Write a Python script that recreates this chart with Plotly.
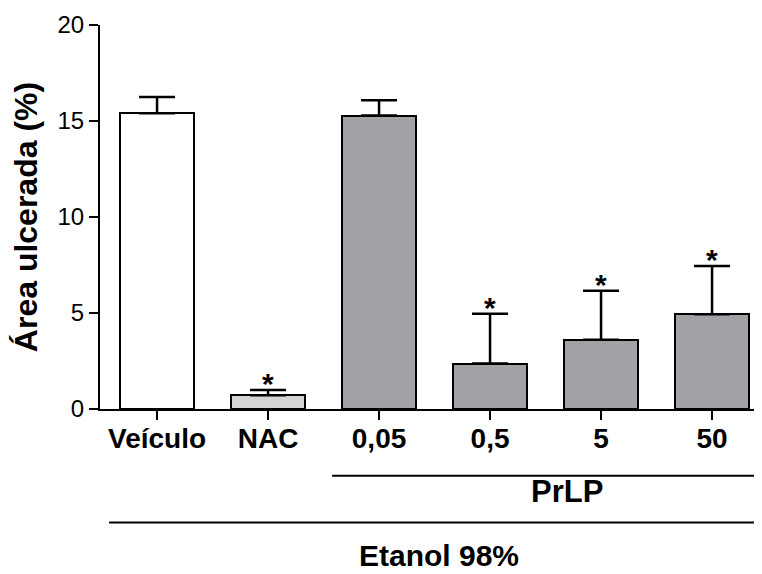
import plotly.graph_objects as go

categories = ["Veículo", "NAC", "0,05", "0,5", "5", "50"]
means = [15.40, 0.71, 15.28, 2.37, 3.61, 4.93]
errors = [0.85, 0.28, 0.80, 2.59, 2.55, 2.52]
significant = [False, True, False, True, True, True]
bar_colors = ["#ffffff", "#d4d4d4", "#a2a1a6", "#a2a1a6", "#a2a1a6", "#a2a1a6"]
y_ticks = [0, 5, 10, 15, 20]

xpos = list(range(len(categories)))

fig = go.Figure()
fig.add_trace(go.Bar(
    x=xpos, y=means, width=0.66,
    marker=dict(color=bar_colors, line=dict(color="black", width=2)),
    error_y=dict(type="data", array=errors, arrayminus=[0] * len(errors),
                 symmetric=False, color="black", thickness=2.5, width=18),
    showlegend=False, hoverinfo="skip",
))

annotations = []
for i, (m, e, s) in enumerate(zip(means, errors, significant)):
    if s:
        annotations.append(dict(x=i, y=m + e, text="<b>*</b>", showarrow=False,
                                xref="x", yref="y", yanchor="bottom", yshift=-12,
                                font=dict(family="Liberation Sans, Arial", size=30, color="black")))

annotations.append(dict(x=3.69, y=-0.2144, xref="x", yref="paper", text="<b>PrLP</b>",
                        showarrow=False, yanchor="middle",
                        font=dict(family="Liberation Sans, Arial", size=31, color="black")))
annotations.append(dict(x=2.54, y=-0.381, xref="x", yref="paper", text="<b>Etanol 98%</b>",
                        showarrow=False, yanchor="middle",
                        font=dict(family="Liberation Sans, Arial", size=30, color="black")))

shapes = [
    dict(type="line", xref="x", yref="paper", x0=1.577, x1=5.5, y0=-0.1736, y1=-0.1736,
         line=dict(color="black", width=2)),
    dict(type="line", xref="x", yref="paper", x0=-0.432, x1=5.5, y0=-0.2958, y1=-0.2958,
         line=dict(color="black", width=2)),
]

fig.update_layout(
    width=754, height=566,
    margin=dict(l=92, r=0, t=17, b=165, autoexpand=False),
    plot_bgcolor="white", paper_bgcolor="white",
    annotations=annotations, shapes=shapes,
    bargap=0,
    xaxis=dict(
        range=[-0.514, 5.45], tickmode="array", tickvals=xpos,
        ticktext=["<b>%s</b>" % c for c in categories],
        showline=True, linecolor="black", linewidth=2,
        ticks="outside", ticklen=9, tickwidth=2, tickcolor="black",
        ticklabelstandoff=-6,
        showgrid=False, zeroline=False,
        tickfont=dict(family="Liberation Sans Narrow, Arial Narrow, Liberation Sans, Arial", size=28, color="black"),
    ),
    yaxis=dict(
        range=[0, 20], tickmode="array", tickvals=y_ticks,
        showline=True, linecolor="black", linewidth=2,
        ticks="outside", ticklen=9, tickwidth=2, tickcolor="black",
        showgrid=False, zeroline=False,
        tickfont=dict(family="Liberation Sans Narrow, Arial Narrow, Liberation Sans, Arial", size=24, color="black"),
        title=dict(text="<b>Área ulcerada (%)</b>", standoff=13,
                   font=dict(family="Liberation Sans, Arial", size=32, color="black")),
    ),
)

fig.write_html("out.html")
